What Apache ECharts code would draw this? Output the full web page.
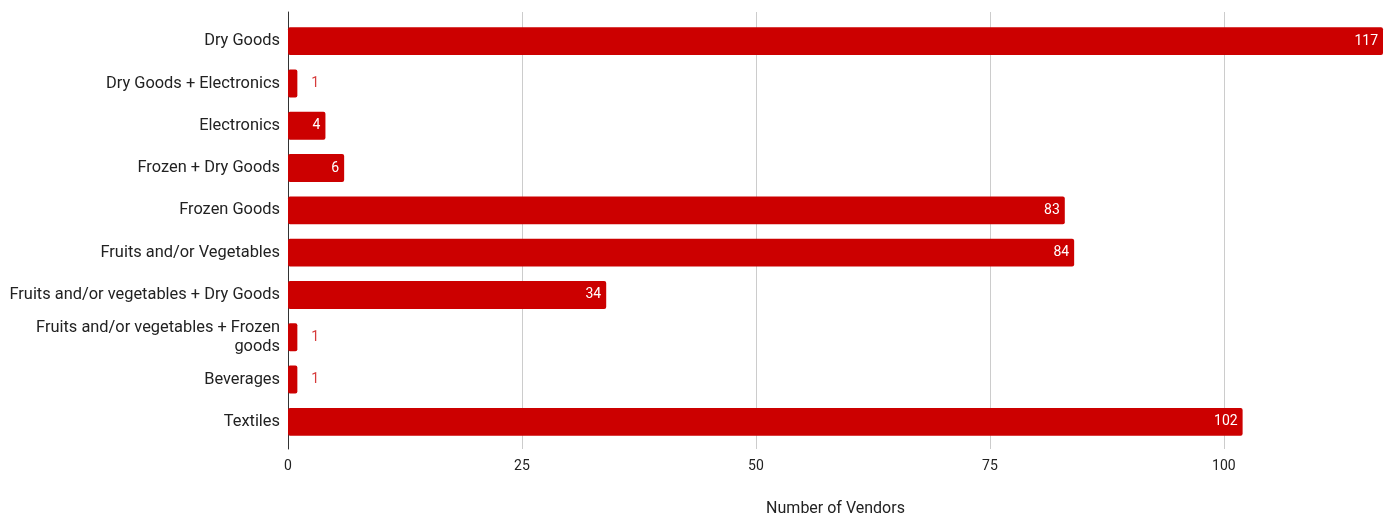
<!DOCTYPE html>
<html>
<head>
<meta charset="utf-8">
<script src="https://cdn.jsdelivr.net/npm/echarts@6/dist/echarts.min.js"></script>
<style>
  html, body { margin: 0; padding: 0; background: #fff; }
  #chart { width: 1394px; height: 516px; }
</style>
</head>
<body>
<div id="chart"></div>
<script>
// Vendor counts by product type
const categories = [
  'Dry Goods',
  'Dry Goods + Electronics',
  'Electronics',
  'Frozen + Dry Goods',
  'Frozen Goods',
  'Fruits and/or Vegetables',
  'Fruits and/or vegetables + Dry Goods',
  'Fruits and/or vegetables + Frozen goods',
  'Beverages',
  'Textiles'
];
const vendors = [117, 1, 4, 6, 83, 84, 34, 1, 1, 102];
const xTicks = [0, 25, 50, 75, 100];

const RED = '#cc0000';
const FONT = 'Roboto';
const TEXT = '#222222';
const xMax = Math.max(...vendors);

// Break long category names at the last space that keeps the first line short
function wrapLabel(name, maxChars) {
  if (name.length <= maxChars) return name;
  const cut = name.lastIndexOf(' ', maxChars);
  return cut > 0 ? name.slice(0, cut) + '\n' + name.slice(cut + 1) : name;
}

// Short bars carry their value outside, in red; others inside, in white
const seriesData = vendors.map(v => {
  const small = v < 3;
  return {
    value: v,
    label: small
      ? { position: 'right', distance: 14, color: '#d63b3b' }
      : { position: 'insideRight', distance: 5, color: '#ffffff' }
  };
});

const chart = echarts.init(document.getElementById('chart'), null, { renderer: 'canvas' });
chart.setOption({
  animation: false,
  backgroundColor: '#ffffff',
  // grid 0: frame (gridlines, value axis, baseline); grid 1: bars, inset a little
  grid: [
    { left: 288, right: 11, top: 12, bottom: 67, containLabel: false, outerBoundsMode: 'none' },
    { left: 288, right: 11, top: 20, bottom: 73, containLabel: false, outerBoundsMode: 'none' }
  ],
  xAxis: [
    {
      gridIndex: 0,
      type: 'value',
      min: 0,
      max: xMax,
      interval: 25,
      name: 'Number of Vendors',
      nameLocation: 'middle',
      nameGap: 52,
      nameTextStyle: { fontFamily: FONT, fontSize: 16, color: TEXT },
      axisLine: { show: false },
      axisTick: { show: false },
      axisLabel: {
        fontFamily: FONT, fontSize: 14, color: TEXT, margin: 10,
        showMaxLabel: false,
        formatter: v => (xTicks.includes(v) ? String(v) : '')
      },
      splitLine: { show: true, showMaxLine: false, lineStyle: { color: '#cccccc', width: 1 } }
    },
    {
      gridIndex: 1,
      type: 'value',
      min: 0,
      max: xMax,
      show: false
    }
  ],
  yAxis: [
    {
      gridIndex: 0,
      type: 'value',
      min: 0,
      max: 1,
      axisLine: { show: true, onZero: false, lineStyle: { color: '#333333', width: 1 } },
      axisTick: { show: false },
      axisLabel: { show: false },
      splitLine: { show: false }
    },
    {
      gridIndex: 1,
      type: 'category',
      data: categories,
      inverse: true,
      axisLine: { show: false },
      axisTick: { show: false },
      axisLabel: {
        fontFamily: FONT, fontSize: 16.4, color: TEXT, margin: 8,
        lineHeight: 19,
        formatter: name => wrapLabel(name, 36)
      },
      splitLine: { show: false }
    }
  ],
  series: [
    {
      type: 'scatter',
      xAxisIndex: 0,
      yAxisIndex: 0,
      data: [],
      silent: true
    },
    {
      type: 'bar',
      xAxisIndex: 1,
      yAxisIndex: 1,
      data: seriesData,
      barCategoryGap: '34%',
      itemStyle: { color: RED, borderRadius: 2 },
      label: {
        show: true,
        fontFamily: FONT,
        fontSize: 14
      }
    }
  ]
});
</script>
</body>
</html>
